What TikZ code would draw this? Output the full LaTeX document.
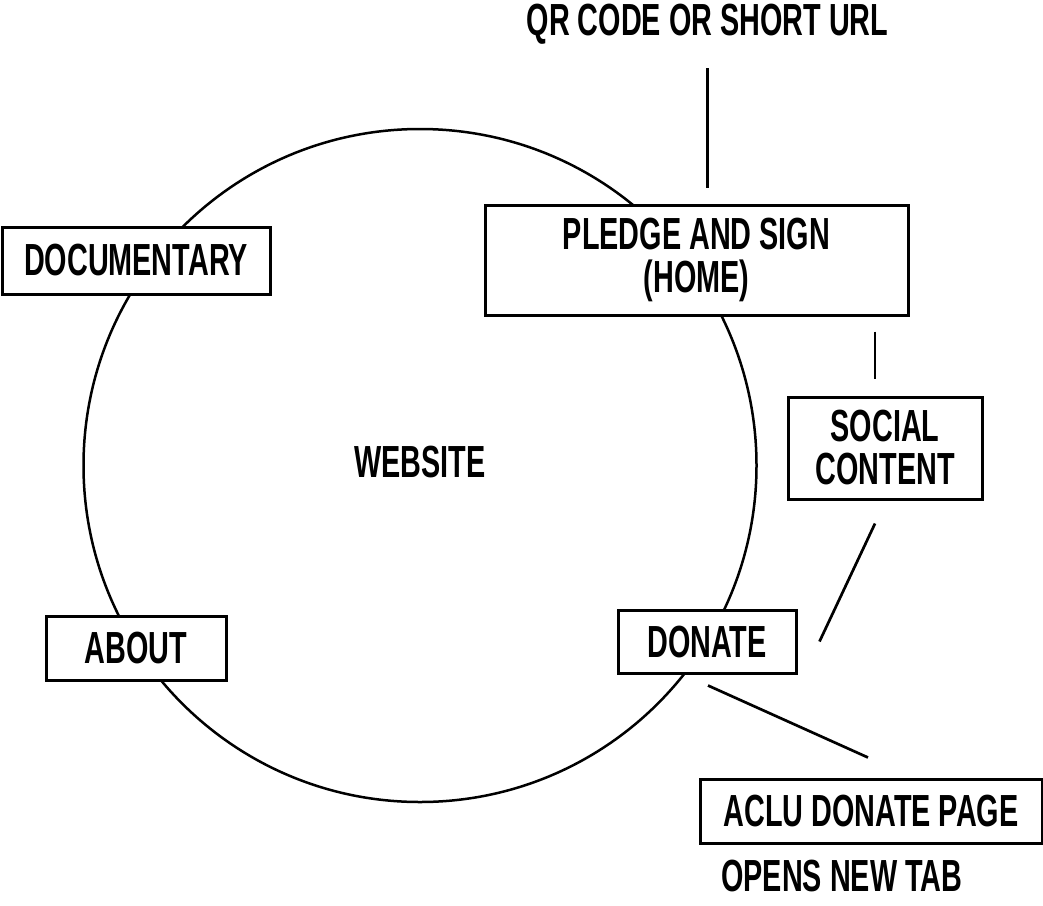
\documentclass[tikz,border=0pt]{standalone}
\usepackage{fontspec}
\setmainfont{Liberation Sans}[FakeStretch=0.64]
\usetikzlibrary{calc}

\begin{document}
\begin{tikzpicture}[x=1pt, y=-1pt,
  every node/.style={font=\fontsize{45}{43}\selectfont\bfseries, align=center},
  page/.style={draw, line width=3pt, fill=white, inner sep=0pt},
  link/.style={line width=2.7pt}]
  \def\siteradius{336.5pt}
  \useasboundingbox (0,0) rectangle (1043,905);

  \draw[line width=2.5pt] (420,465.5) circle (\siteradius);
  \node (website) at (420,462) {WEBSITE};

  \node[page, minimum width=423pt, minimum height=110pt] (pledge) at (696.5,260) {PLEDGE AND SIGN\\(HOME)};
  \node[page, minimum width=268pt, minimum height=67pt] (documentary) at (136,260.5) {DOCUMENTARY};
  \node[page, minimum width=194pt, minimum height=102pt] (social) at (885,448) {SOCIAL\\CONTENT};
  \node[page, minimum width=178pt, minimum height=63pt] (donate) at (707,641.5) {DONATE};
  \node[page, minimum width=180pt, minimum height=64pt] (about) at (136,648) {ABOUT};
  \node[page, minimum width=342pt, minimum height=64pt] (aclu) at (871,811) {ACLU DONATE PAGE};

  \node[inner sep=0pt] (qr) at (707.5,24) {QR CODE OR SHORT URL};
  \node[anchor=west, inner sep=0pt] (newtab) at (721,876) {OPENS NEW TAB};

  \draw[link] ($(qr.south)+(0,24)$) -- ($(qr.south |- pledge.north)+(0,-16)$);
  \draw[link] ($(pledge.south)+(178.5,15)$) -- ($(social.north)+(-10,-17)$);
  \draw[link] ($(social.south)+(-10,23)$) -- ($(donate.east)+(22,0)$);
  \draw[link] ($(donate.south)+(1,11)$) -- ($(aclu.north)+(-3,-20)$);
\end{tikzpicture}
\end{document}
